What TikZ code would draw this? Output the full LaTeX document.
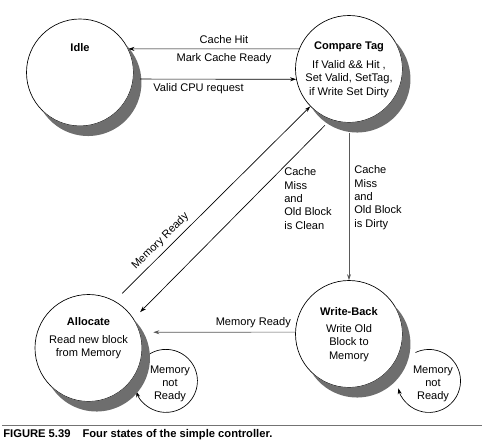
\documentclass[tikz,border=0pt]{standalone}
\usepackage{fontspec}
\setmainfont{Liberation Sans}
\usetikzlibrary{arrows.meta}

\tikzset{
  state/.style={circle, draw, line width=0.5pt, fill=white, inner sep=0pt, minimum size=80.25pt},
  stateshadow/.style={fill=shadowgray},
  titletext/.style={font=\fontsize{8.3}{10}\selectfont\bfseries, inner sep=0pt},
  bodytext/.style={font=\fontsize{8.3}{10}\selectfont, align=center, inner sep=0pt},
  edgetext/.style={font=\fontsize{8.3}{10}\selectfont},
  misstext/.style={font=\fontsize{8.3}{10}\selectfont, align=left, inner sep=0pt, anchor=west},
  looptext/.style={font=\fontsize{8.3}{10}\selectfont, align=center, inner sep=0pt}
}
\definecolor{shadowgray}{RGB}{110,110,110}

\begin{document}
\begin{tikzpicture}[x=0.75pt, y=-0.75pt, line width=0.5pt, >={Stealth[length=4.5pt,width=3pt]}]
	\useasboundingbox (0,0) rectangle (489,446);
	% states
	\node[state] (idle) at (80,72.5) {};
	\node[state] (cmptag) at (349,69) {};
	\node[state] (alloc) at (88.5,348) {};
	\node[state] (wrback) at (349,334) {};
	\node[titletext] (idle-t) at (80,48) {Idle};
	\node[titletext] (cmptag-t) at (349,47) {Compare Tag};
	\node[bodytext] (cmptag-b) at (349,79) {If Valid \&\& Hit ,\\Set Valid, SetTag,\\if Write Set Dirty};
	\node[titletext] (alloc-t) at (88.5,322) {Allocate};
	\node[bodytext] (alloc-b) at (88.5,347) {Read new block\\from Memory};
	\node[titletext] (wrback-t) at (349,312) {Write-Back};
	\node[bodytext] (wrback-b) at (349,343) {Write Old\\Block to\\Memory};
	% memory not ready loops
	\node[looptext] (aloop) at (170,384) {Memory\\not\\Ready};
	\node[looptext] (wloop) at (433,384) {Memory\\not\\Ready};
	\draw[->] (aloop.center) ++(-22,-29) arc[start angle=-124.7, end angle=160.5, radius=31.5];
	\draw[->] (wloop.center) ++(-17.5,-31.5) arc[start angle=-115.4, end angle=166.6, radius=31.5];
	% shadows (crescent below right of each state)
	\foreach \s in {idle,cmptag,alloc,wrback}
		\fill[stateshadow] (\s.center) ++(45.4,-28.2) arc[start angle=-45.6, end angle=148.2, radius=53.5]
			arc[start angle=134.4, end angle=-31.8, radius=53.5] -- cycle;
	% transitions
	\draw[->] (cmptag.158) -- node[edgetext,pos=0.44,above] {Cache Hit} node[edgetext,pos=0.44,below] {Mark Cache Ready} (idle.26);
	\draw[->, shorten <=5pt] (idle.-7) -- node[edgetext,pos=0.4,below] {Valid CPU request} (cmptag.191);
	\draw[->, shorten <=8pt] (alloc.61) -- node[edgetext,pos=0.27,above,sloped] {Memory Ready} (cmptag.224);
	\draw[->, shorten <=6pt, shorten >=7pt] (cmptag.250) -- (alloc.33);
	\draw[->, black!65] ([yshift=-7.5pt]cmptag.south) -- (wrback.north);
	\draw[->, black!65, shorten >=10pt] (wrback.178) -- node[edgetext,black,pos=0.27,above] {Memory Ready} (alloc.17);
	\node[misstext] (clean) at (284,198.5) {Cache\\Miss\\and\\Old Block\\is Clean};
	\node[misstext] (dirty) at (354,197.5) {Cache\\Miss\\and\\Old Block\\is Dirty};
	% caption
	\draw[black!55, line width=1pt] (2,425.5) -- (482,425.5);
	\node[anchor=base west, inner sep=0pt, font=\fontsize{8.4}{10}\selectfont\bfseries] (caption) at (3,437.5) {FIGURE 5.39\hspace{9pt}Four states of the simple controller.};
\end{tikzpicture}
\end{document}
